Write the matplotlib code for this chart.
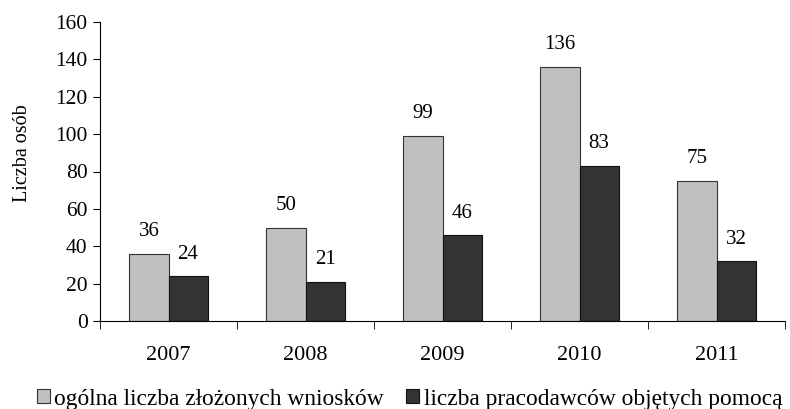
import matplotlib.pyplot as plt
import numpy as np

plt.rcParams['font.family'] = ['Liberation Serif', 'DejaVu Serif']

years = ['2007', '2008', '2009', '2010', '2011']
wnioski = [36, 50, 99, 136, 75]
pracodawcy = [24, 21, 46, 83, 32]

fig = plt.figure(figsize=(7.9, 4.09), dpi=100)
ax = fig.add_axes([100/790, 1 - 321/409, 685/790, 299/409])

x = np.arange(len(years))
w = 0.285
b1 = ax.bar(x - w/2, wnioski, w, color='#c0c0c0', edgecolor='#333333', linewidth=0.8,
            label='ogólna liczba złożonych wniosków')
b2 = ax.bar(x + w/2, pracodawcy, w, color='#333333', edgecolor='#111111', linewidth=0.8,
            label='liczba pracodawców objętych pomocą')

for bars in (b1, b2):
    for r in bars:
        ax.annotate(str(int(r.get_height())), (r.get_x() + r.get_width()/2, r.get_height()),
                    xytext=(0, 9), textcoords='offset points', ha='center', va='bottom',
                    fontsize=15)

ax.set_xlim(-0.5, len(years) - 0.5)
ax.set_ylim(0, 160)
ax.set_yticks(range(0, 161, 20))
ax.set_xticks(x)
ax.set_xticklabels(years)
ax.set_xticks(np.arange(-0.5, len(years)), minor=True)
ax.tick_params(axis='x', which='major', length=0, pad=18, labelsize=16)
ax.tick_params(axis='x', which='minor', length=6, direction='out')
ax.tick_params(axis='y', length=5, direction='out', labelsize=15.5, pad=4)
ax.spines['top'].set_visible(False)
ax.spines['right'].set_visible(False)
ax.set_ylabel('Liczba osób', fontsize=14.5)
ax.yaxis.set_label_coords(-68/685, 0.56)

fig.legend(handles=[b1, b2], loc='lower left', bbox_to_anchor=(33/790, -0.01), ncol=2,
           frameon=False, fontsize=16.8, handlelength=0.56, handleheight=0.56,
           handletextpad=0.2, columnspacing=0.95, borderpad=0.15, borderaxespad=0)

fig.savefig('out.png', dpi=100)
